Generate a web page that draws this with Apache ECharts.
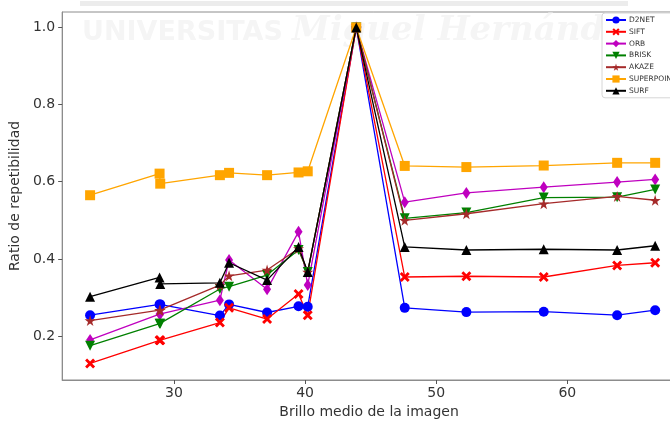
<!DOCTYPE html>
<html>
<head>
<meta charset="utf-8">
<script src="https://cdn.jsdelivr.net/npm/echarts@6/dist/echarts.min.js"></script>
<style>
  html, body { margin: 0; padding: 0; background: #fff; overflow: hidden; }
  #chart { width: 690px; height: 424px; }
</style>
</head>
<body>
<div id="chart"></div>
<script>
// Mean image brightness of each test image (x axis)
const brightness = [23.6, 28.9, 28.95, 33.5, 34.2, 37.1, 39.5, 40.2, 43.9, 47.6, 52.3, 58.2, 63.8, 66.7];

// Repeatability ratio per detector
const d2net      = [0.254, 0.282, 0.282, 0.253, 0.282, 0.261, 0.277, 0.276, 1.0, 0.273, 0.262, 0.263, 0.254, 0.267];
const sift       = [0.129, 0.189, 0.189, 0.235, 0.273, 0.244, 0.309, 0.254, 1.0, 0.353, 0.355, 0.353, 0.383, 0.390];
const orb        = [0.190, 0.257, 0.257, 0.293, 0.397, 0.321, 0.470, 0.332, 1.0, 0.547, 0.571, 0.586, 0.599, 0.606];
const brisk      = [0.175, 0.232, 0.232, 0.322, 0.328, 0.358, 0.423, 0.366, 1.0, 0.505, 0.520, 0.559, 0.560, 0.580];
const akaze      = [0.240, 0.267, 0.267, 0.332, 0.356, 0.371, 0.427, 0.366, 1.0, 0.500, 0.517, 0.543, 0.562, 0.552];
const superpoint = [0.565, 0.621, 0.595, 0.617, 0.623, 0.617, 0.624, 0.627, 1.0, 0.641, 0.638, 0.642, 0.649, 0.649];
const surf       = [0.302, 0.352, 0.335, 0.338, 0.390, 0.345, 0.431, 0.366, 1.0, 0.431, 0.423, 0.425, 0.423, 0.434];

const xTicks = [30, 40, 50, 60];
const yTicks = [0.2, 0.4, 0.6, 0.8, 1.0];

const X_PATH = 'path://M0,2 L2,0 L5,3 L8,0 L10,2 L7,5 L10,8 L8,10 L5,7 L2,10 L0,8 L3,5 Z';
const STAR_PATH = 'path://M50,0 L61,35 L98,35 L68,57 L79,91 L50,70 L21,91 L32,57 L2,35 L39,35 Z';

function pairs(values) {
  return brightness.map((x, i) => [x, values[i]]);
}

function makeSeries(name, values, color, symbol, size, extra) {
  return Object.assign({
    name: name,
    type: 'line',
    data: pairs(values),
    symbol: symbol,
    symbolSize: size,
    showAllSymbol: true,
    lineStyle: { color: color, width: 1.3 },
    itemStyle: { color: color, borderWidth: 0 },
    emphasis: { disabled: true },
    animation: false
  }, extra || {});
}

const font = 'DejaVu Sans, sans-serif';

// The canvas is a little wider than the window so the plot frame runs past the right edge.
const chart = echarts.init(document.getElementById('chart'), null, { renderer: 'canvas' });

chart.setOption({
  backgroundColor: '#ffffff',
  animation: false,
  textStyle: { fontFamily: font },
  graphic: {
    elements: [
      { type: 'rect', z: 0, shape: { x: 80, y: 1, width: 548, height: 5 }, style: { fill: '#ececec' } },
      { type: 'text', z: 0, left: 82, top: 19,
        style: { text: 'UNIVERSITAS', fill: '#f5f5f5', font: 'bold 27px "DejaVu Sans"' } },
      { type: 'text', z: 0, left: 292, top: 14,
        style: { text: 'Miguel Hernández', fill: '#f5f5f5', font: 'italic bold 34px "DejaVu Serif"' } }
    ]
  },
  grid: {
    left: 62, top: 12, bottom: 44, right: 6,
    show: true, borderColor: '#8c8c8c', borderWidth: 1, backgroundColor: 'transparent'
  },
  legend: {
    orient: 'vertical',
    left: 602, top: 13,
    itemWidth: 20, itemHeight: 9, itemGap: 3.8,
    padding: [3, 8, 3, 3],
    borderColor: '#d6d6d6', borderWidth: 1, borderRadius: 3,
    backgroundColor: '#ffffff',
    textStyle: { fontSize: 7.5, color: '#333', fontFamily: font, padding: [0, 0, 0, -2] },
    data: ['D2NET', 'SIFT', 'ORB', 'BRISK', 'AKAZE', 'SUPERPOINT', 'SURF']
  },
  xAxis: {
    type: 'value',
    min: 21.47, max: 68.9,
    name: 'Brillo medio de la imagen',
    nameLocation: 'middle',
    nameGap: 23,
    nameTextStyle: { fontSize: 14, color: '#333', fontFamily: font, padding: [0, 8, 0, 0] },
    axisLine: { show: true, lineStyle: { color: '#8c8c8c', width: 1 } },
    axisTick: { show: true, length: 4, customValues: xTicks, lineStyle: { color: '#555' } },
    axisLabel: { customValues: xTicks, fontSize: 14, color: '#333', margin: 6, fontFamily: font },
    splitLine: { show: false }
  },
  yAxis: {
    type: 'value',
    min: 0.086, max: 1.04,
    name: 'Ratio de repetibilidad',
    nameLocation: 'middle',
    nameGap: 35,
    nameTextStyle: { fontSize: 14, color: '#333', fontFamily: font },
    axisLine: { show: true, lineStyle: { color: '#8c8c8c', width: 1 } },
    axisTick: { show: true, length: 4, customValues: yTicks, lineStyle: { color: '#555' } },
    axisLabel: { customValues: yTicks, fontSize: 14, color: '#333', margin: 7, fontFamily: font,
      formatter: v => v.toFixed(1) },
    splitLine: { show: false }
  },
  series: [
    makeSeries('D2NET', d2net, '#0000ff', 'circle', 10),
    makeSeries('SIFT', sift, '#ff0000', X_PATH, 10),
    makeSeries('ORB', orb, '#bf00bf', 'diamond', [8, 12]),
    makeSeries('BRISK', brisk, '#008000', 'triangle', 10, { symbolRotate: 180 }),
    makeSeries('AKAZE', akaze, '#a52a2a', STAR_PATH, 11),
    makeSeries('SUPERPOINT', superpoint, '#ffa500', 'rect', 10),
    makeSeries('SURF', surf, '#000000', 'triangle', 10)
  ]
});
</script>
</body>
</html>
